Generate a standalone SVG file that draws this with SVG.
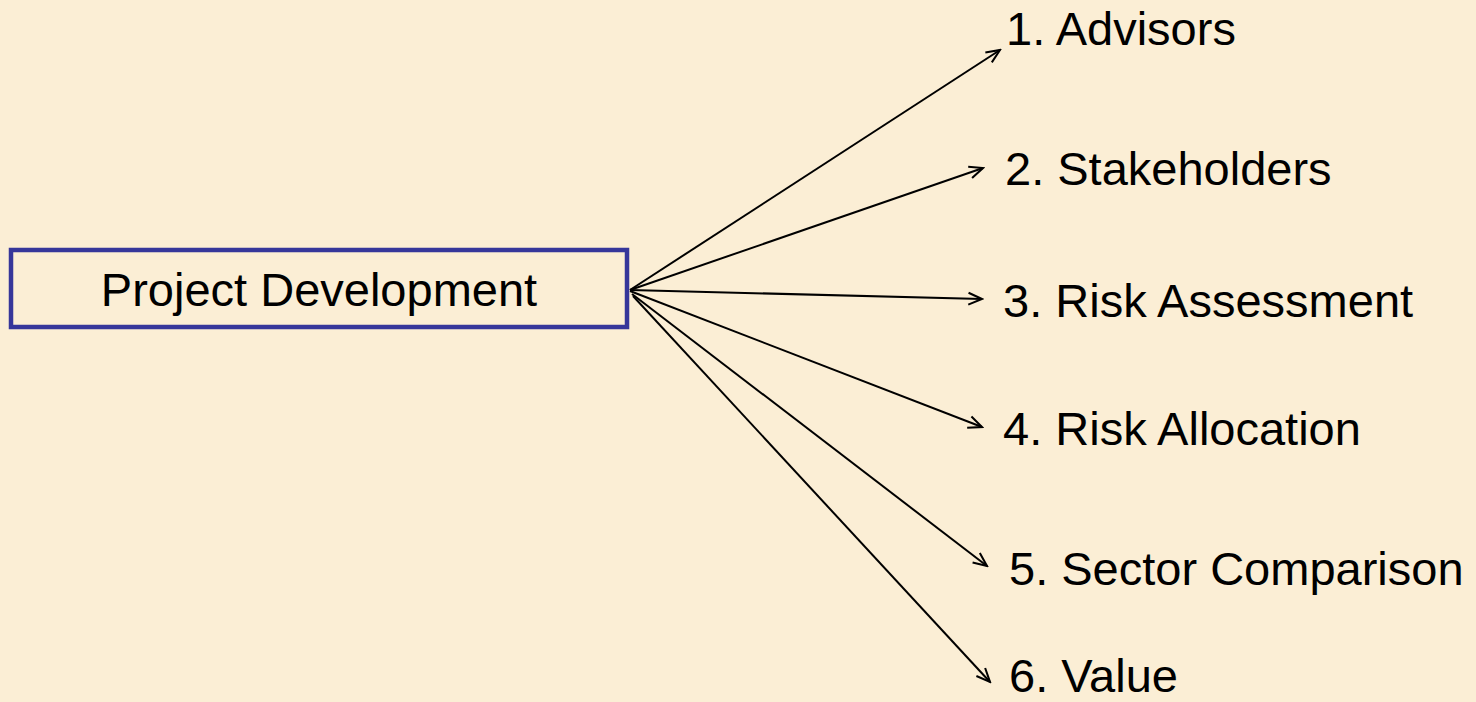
<svg xmlns="http://www.w3.org/2000/svg" width="1476" height="702" viewBox="0 0 1476 702">
  <defs>
    <style>
      .lbl { font-family: "Liberation Sans", Arial, sans-serif; font-size: 47px; fill: #000; }
      .conn { stroke: #000; stroke-width: 2; fill: none; marker-end: url(#arr); }
    </style>
    <marker id="arr" viewBox="0 0 20 20" refX="18" refY="10" markerWidth="17" markerHeight="17" markerUnits="userSpaceOnUse" orient="auto">
      <polyline points="2,3 18,10 2,17" fill="none" stroke="#000" stroke-width="2.4"/>
    </marker>
  </defs>
  <rect x="0" y="0" width="1476" height="702" fill="#FBEED5"/>
  <g id="root">
    <rect x="11" y="250" width="616" height="77" fill="none" stroke="#36369A" stroke-width="4.5"/>
    <text class="lbl" x="319" y="306" text-anchor="middle">Project Development</text>
  </g>
  <g id="connectors">
    <line class="conn" x1="630" y1="290" x2="1000" y2="50"/>
    <line class="conn" x1="630" y1="290" x2="983" y2="168"/>
    <line class="conn" x1="630" y1="290" x2="982" y2="299"/>
    <line class="conn" x1="630" y1="291" x2="982" y2="427"/>
    <line class="conn" x1="632" y1="294" x2="987" y2="566"/>
    <line class="conn" x1="633" y1="296" x2="990" y2="682"/>
  </g>
  <g id="n1"><text class="lbl" x="1006" y="45">1. Advisors</text></g>
  <g id="n2"><text class="lbl" x="1005" y="185">2. Stakeholders</text></g>
  <g id="n3"><text class="lbl" x="1003" y="317">3. Risk Assessment</text></g>
  <g id="n4"><text class="lbl" x="1003" y="445">4. Risk Allocation</text></g>
  <g id="n5"><text class="lbl" x="1009" y="585">5. Sector Comparison</text></g>
  <g id="n6"><text class="lbl" x="1009" y="692">6. Value</text></g>
</svg>
